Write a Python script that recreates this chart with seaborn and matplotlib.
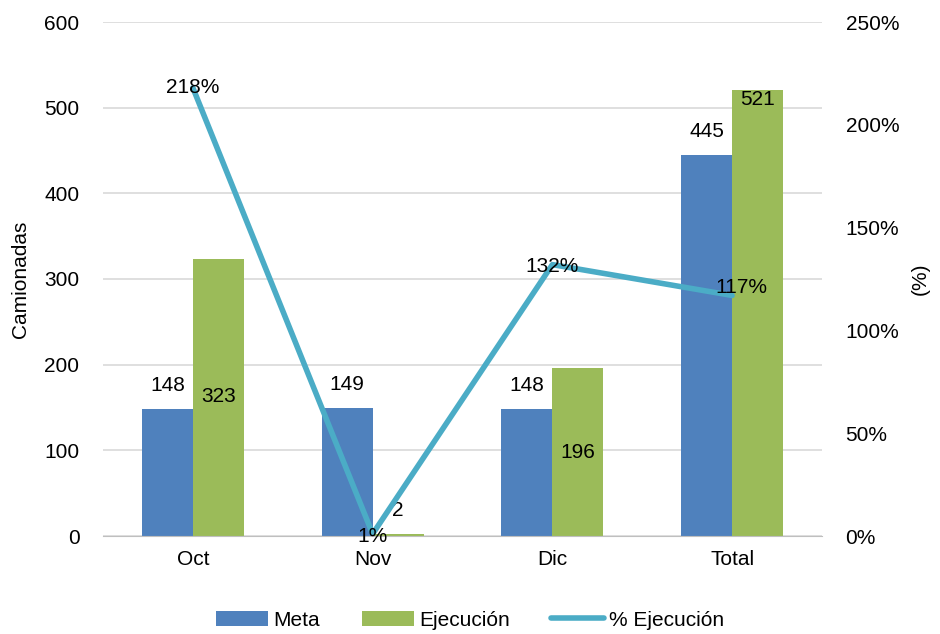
import numpy as np
import pandas as pd
import matplotlib
matplotlib.use("Agg")
import matplotlib.pyplot as plt
import seaborn as sns
from matplotlib.ticker import FuncFormatter

categories = ["Oct", "Nov", "Dic", "Total"]
meta = [148, 149, 148, 445]
ejecucion = [323, 2, 196, 521]
pct_ejecucion = [218, 1, 132, 117]

sns.set_style("white")
plt.rcParams["font.family"] = ["Liberation Sans", "DejaVu Sans"]
plt.rcParams["text.color"] = "black"
plt.rcParams["xtick.color"] = "black"
plt.rcParams["ytick.color"] = "black"
plt.rcParams["axes.labelcolor"] = "black"
FS = 15

df = pd.DataFrame({
    "cat": categories * 2,
    "serie": ["Meta"] * 4 + ["Ejecución"] * 4,
    "val": meta + ejecucion,
})

fig = plt.figure(figsize=(9.4, 6.34), dpi=100)
ax = fig.add_axes([103 / 940, 1 - 536 / 634, 719 / 940, 514 / 634])
sns.barplot(data=df, x="cat", y="val", hue="serie", order=categories,
            hue_order=["Meta", "Ejecución"],
            palette=["#4F81BD", "#9BBB59"], width=0.567, gap=0,
            saturation=1, ax=ax, legend=True, linewidth=0)
ax.set_ylim(0, 600)
ax.set_yticks(range(0, 601, 100))
ax.set_xlim(-0.5, 3.5)
ax.grid(axis="y", color="#D9D9D9", linewidth=1.2)
ax.set_axisbelow(True)
for s in ["top", "right", "left"]:
    ax.spines[s].set_visible(False)
ax.spines["bottom"].set_color("#BFBFBF")
ax.tick_params(axis="y", length=0, labelsize=FS, pad=17)
ax.tick_params(axis="x", length=0, labelsize=FS, pad=10)
ax.set_xlabel("")
ax.set_ylabel("Camionadas", fontsize=FS, labelpad=10)

ax2 = ax.twinx()
sns.lineplot(x=np.arange(len(categories)), y=pct_ejecucion, ax=ax2,
             color="#4BACC6", linewidth=4, label="% Ejecución", legend=False)
ax2.set_ylim(0, 250)
ax2.set_yticks(range(0, 251, 50))
ax2.yaxis.set_major_formatter(FuncFormatter(lambda v, p: f"{int(v)}%"))
ax2.tick_params(axis="y", length=0, labelsize=FS, pad=17)
for s in ["top", "right", "left", "bottom"]:
    ax2.spines[s].set_visible(False)
ax2.set_ylabel("(%)", fontsize=FS, labelpad=8)
ax2.set_xlim(-0.5, 3.5)

bw = 0.2835
# Meta labels (above bars)
for i, v in enumerate(meta):
    ax.annotate(str(v), (i - bw / 2, v), xytext=(0, 10), textcoords="offset points",
                ha="center", va="bottom", fontsize=FS)
# Ejecucion labels
ej_pos = [163, 30, 97, 509]
for i, (v, yp) in enumerate(zip(ejecucion, ej_pos)):
    ax.text(i + bw / 2, yp, str(v), ha="center", va="center", fontsize=FS)
# percent labels
pct_x = [0, 1, 2, 3.05]
pct_y = [218, 0, 131, 121]
for xp, yp, v in zip(pct_x, pct_y, pct_ejecucion):
    ax2.text(xp, yp, f"{v}%", ha="center", va="center", fontsize=FS)

h1, l1 = ax.get_legend_handles_labels()
h2, l2 = ax2.get_legend_handles_labels()
ax.get_legend().remove()
fig.legend(h1 + h2, l1 + l2, loc="center", bbox_to_anchor=(0.50, 0.022),
           ncol=3, frameon=False, fontsize=FS, handlelength=2.5,
           handleheight=0.75, columnspacing=2.0, handletextpad=0.25)

fig.savefig("out.png", dpi=100)
